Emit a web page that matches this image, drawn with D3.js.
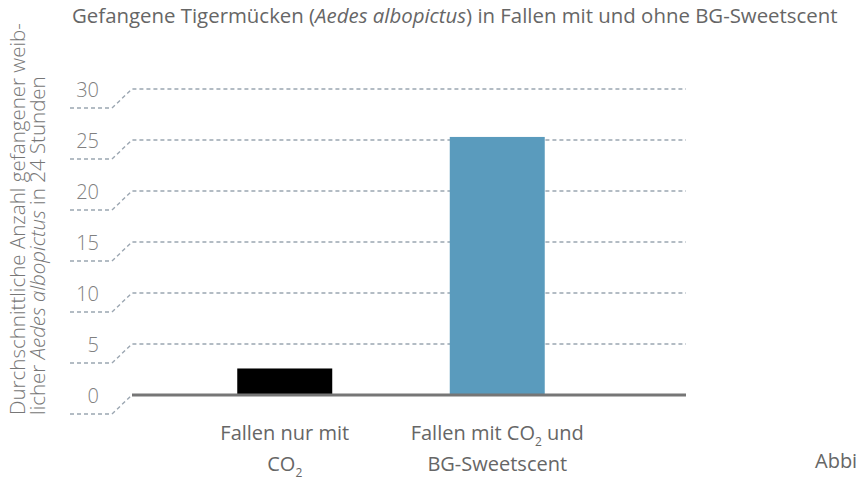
<!DOCTYPE html>
<html>
<head>
<meta charset="utf-8">
<script src="https://cdn.jsdelivr.net/npm/d3@7"></script>
<style>
  body { margin: 0; background: #fff; }
  text { font-family: "Open Sans", "Noto Sans", sans-serif; }
</style>
</head>
<body>
<script>
// chart data
var categories = ['nurCO2', 'CO2BG'];
var labelLines = [
  [['Fallen nur mit'], ['CO', '2', '']],
  [['Fallen mit CO', '2', ' und'], ['BG-Sweetscent']]
];
var values = [2.6, 25.3];
var barColors = ['#000000', '#5a9bbd'];
var tickValues = [0, 5, 10, 15, 20, 25, 30];

var width = 859,
    height = 480;

var svg = d3.select('body').append('svg')
    .attr('width', width)
    .attr('height', height);

var y = d3.scaleLinear().domain([0, 30]).range([395, 89]);
var x = d3.scaleBand().domain(categories).range([131, 651])
    .paddingInner(0.553).paddingOuter(0.5);

var wallLeft = 132, wallRight = 686;
var depthX = 20, depthY = 19;

// gridlines with the little perspective step on the left
var grid = svg.append('g');
tickValues.forEach(function(v) {
  var yy = y(v);
  var pts = [[wallLeft - depthX - 42, yy + depthY], [wallLeft - depthX, yy + depthY], [wallLeft, yy]];
  if (v > 0) pts.push([wallRight, yy]);
  grid.append('path')
      .attr('d', d3.line()(pts))
      .attr('fill', 'none')
      .attr('stroke', '#9ba6b1')
      .attr('stroke-width', 1.4)
      .attr('stroke-dasharray', '4,3');

  grid.append('text')
      .attr('x', 99)
      .attr('y', yy + depthY - 11)
      .attr('text-anchor', 'end')
      .attr('font-size', 20)
      .attr('font-weight', 300)
      .attr('fill', '#808080')
      .text(v);
});

// bars
svg.selectAll('rect.bar')
    .data(values)
    .enter()
    .append('rect')
    .attr('class', 'bar')
    .attr('x', function(d, i) { return x(categories[i]); })
    .attr('width', x.bandwidth())
    .attr('y', function(d) { return y(d); })
    .attr('height', function(d) { return y(0) - y(d); })
    .attr('fill', function(d, i) { return barColors[i]; });

// floor line
svg.append('line')
    .attr('x1', wallLeft).attr('x2', wallRight)
    .attr('y1', y(0)).attr('y2', y(0))
    .attr('stroke', '#767676')
    .attr('stroke-width', 3);

// category labels
categories.forEach(function(c, i) {
  var cx = x(c) + x.bandwidth() / 2;
  labelLines[i].forEach(function(parts, j) {
    var t = svg.append('text')
        .attr('x', cx)
        .attr('y', 440 + j * 31)
        .attr('text-anchor', 'middle')
        .attr('font-size', 20)
        .attr('fill', '#666');
    parts.forEach(function(p, k) {
      var sub = (k === 1);
      t.append('tspan')
          .attr('font-size', sub ? 12 : null)
          .attr('dy', sub ? 6 : (k === 2 ? -6 : null))
          .text(p);
    });
  });
});

// title
var title = svg.append('text')
    .attr('x', 72)
    .attr('y', 23)
    .attr('font-size', 20.4)
    .attr('fill', '#666');
title.append('tspan').text('Gefangene Tigermücken (');
title.append('tspan').attr('font-style', 'italic').text('Aedes albopictus');
title.append('tspan').text(') in Fallen mit und ohne BG-Sweetscent');

// y axis title
var yl = svg.append('g').attr('transform', 'translate(0,415) rotate(-90)');
yl.append('text')
    .attr('x', 0).attr('y', 25)
    .attr('font-size', 20.5)
    .attr('font-weight', 300)
    .attr('fill', '#777')
    .text('Durchschnittliche Anzahl gefangener weib-');
var yl2 = yl.append('text')
    .attr('x', 0).attr('y', 45)
    .attr('font-size', 20.5)
    .attr('font-weight', 300)
    .attr('fill', '#777');
yl2.append('tspan').text('licher ');
yl2.append('tspan').attr('font-style', 'italic').text('Aedes albopictus');
yl2.append('tspan').text(' in 24 Stunden');

// cut-off caption
svg.append('text')
    .attr('x', 815)
    .attr('y', 468)
    .attr('font-size', 20)
    .attr('fill', '#666')
    .text('Abbi');
</script>
</body>
</html>
